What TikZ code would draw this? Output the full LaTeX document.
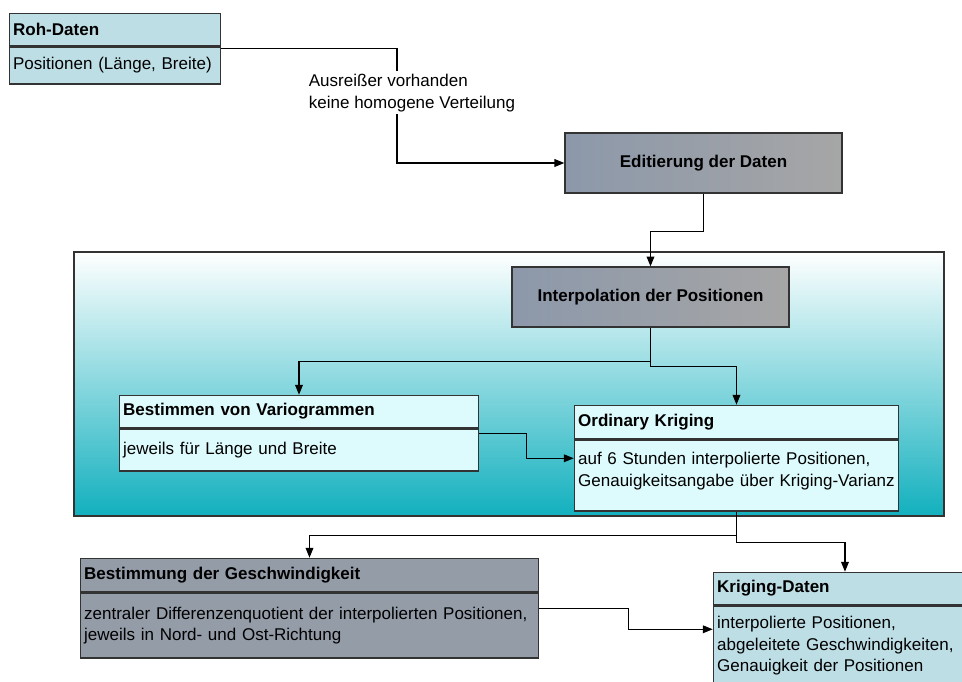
\documentclass[tikz,border=0pt]{standalone}
\usepackage{fontspec}
\setmainfont{Liberation Sans}
\usetikzlibrary{arrows.meta,positioning,fit}
\definecolor{datablue}{HTML}{BEDEE6}
\definecolor{stepleft}{HTML}{8C98AA}
\definecolor{stepright}{HTML}{A6A6A6}
\definecolor{speedgray}{HTML}{949CA8}
\definecolor{palecyan}{HTML}{DDFAFC}
\definecolor{tealdeep}{HTML}{12B0BE}
\definecolor{framedark}{HTML}{333333}
\newcommand{\diagfont}{\fontsize{12.1}{15.3}\selectfont}

\begin{document}
\begin{tikzpicture}[
    x=0.025cm, y=-0.025cm,
    boxhead/.style={rectangle, draw=framedark, line width=0.9pt, anchor=north west,
      inner xsep=2.5pt, inner ysep=0pt, align=left, font=\diagfont\bfseries},
    boxbody/.style={rectangle, draw=framedark, line width=0.9pt, anchor=north,
      inner xsep=2.5pt, inner ysep=0pt, align=left, font=\diagfont},
    stepbox/.style={rectangle, draw=framedark, line width=0.9pt, left color=stepleft,
      right color=stepright, minimum width=6.925cm, minimum height=1.5cm,
      font=\diagfont\bfseries},
    outline/.style={inner sep=0pt},
    link/.style={draw=black, line width=0.8pt, -{Triangle[length=7pt,width=5.5pt]}},
  ]
  \useasboundingbox (0,0) rectangle (962,682);
  \clip (0,0) rectangle (962,682);

  % ---- shaded area round the interpolation
  \node[rectangle, draw=framedark, line width=0.9pt, top color=white, bottom color=tealdeep,
    minimum width=21.75cm, minimum height=6.6cm] (krigarea) at (509,384) {};

  % ---- raw data
  \node[boxhead, fill=datablue, text width=5.09cm, minimum height=0.8cm] (rohhead) at (9,13) {Roh-Daten};
  \node[boxbody, fill=datablue, text width=5.09cm, minimum height=0.925cm, below=0pt of rohhead] (rohbody) {Positionen (Länge, Breite)};
  \node[outline, fit=(rohhead)(rohbody)] (roh) {};

  % ---- processing steps
  \node[stepbox] (edit) at (703.5,163) {Editierung der Daten};
  \node[stepbox] (interp) at (650.5,297) {Interpolation der Positionen};

  % ---- variograms
  \node[boxhead, fill=palecyan, text width=8.79cm, minimum height=0.8cm] (variohead) at (119,395) {Bestimmen von Variogrammen};
  \node[boxbody, fill=palecyan, text width=8.79cm, minimum height=1.05cm, below=0pt of variohead] (variobody) {jeweils für Länge und Breite};
  \node[outline, fit=(variohead)(variobody)] (vario) {};

  % ---- ordinary kriging
  \node[boxhead, fill=palecyan, text width=7.915cm, minimum height=0.825cm] (krighead) at (574,405) {Ordinary Kriging};
  \node[boxbody, fill=palecyan, text width=7.915cm, minimum height=1.775cm, below=0pt of krighead] (krigbody) {auf 6 Stunden interpolierte Positionen,\\\mbox{Genauigkeitsangabe über Kriging-Varianz}\\[-7pt]\mbox{}};
  \node[outline, fit=(krighead)(krigbody)] (krig) {};

  % ---- velocity
  \node[boxhead, fill=speedgray, text width=11.265cm, minimum height=0.825cm] (speedhead) at (80,558) {Bestimmung der Geschwindigkeit};
  \node[boxbody, fill=speedgray, text width=11.265cm, minimum height=1.625cm, below=0pt of speedhead] (speedbody) {zentraler Differenzenquotient der interpolierten Positionen,\\jeweils in Nord- und Ost-Richtung};
  \node[outline, fit=(speedhead)(speedbody)] (speed) {};

  % ---- result
  \node[boxhead, fill=datablue, text width=6.39cm, minimum height=0.8cm] (reshead) at (713,572) {Kriging-Daten};
  \node[boxbody, fill=datablue, text width=6.39cm, minimum height=2.0cm, below=0pt of reshead] (resbody) {interpolierte Positionen,\\abgeleitete Geschwindigkeiten,\\Genauigkeit der Positionen};
  \node[outline, fit=(reshead)(resbody)] (res) {};

  % ---- connectors
  \draw[link] (roh.east) -| (397,100) |- (edit.west);
  \node[fill=white, inner sep=2pt, align=left, font=\diagfont] (flaws) at (412,93) {Ausreißer vorhanden\\keine homogene Verteilung};
  \draw[link] (edit.south) -- ++(0,38) -| (interp.north);
  \draw[link] (interp.south) -- ++(0,34) -| (vario.north);
  \draw[link] (interp.south) -- ++(0,39) -| (krig.north);
  \draw[link] (vario.east) -- ++(47,0) |- (krig.west);
  \draw[link] (krig.south) -- ++(0,24) -| (speed.north);
  \draw[link] (krig.south) -- ++(0,31) -| (res.north);
  \draw[link] (speed.east) -- ++(89,0) |- (res.west);

\end{tikzpicture}
\end{document}
